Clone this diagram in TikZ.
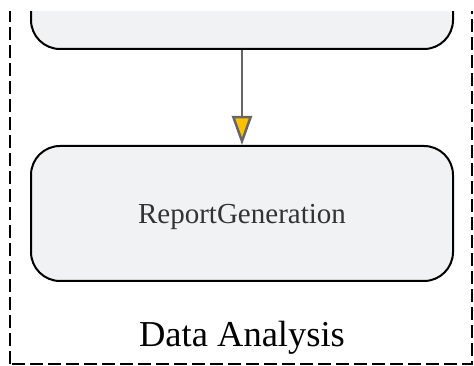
\documentclass[tikz,border=0pt]{standalone}
\usepackage{fontspec}
\setmainfont{Liberation Serif}
\usetikzlibrary{positioning, arrows.meta}
\definecolor{boxfill}{HTML}{F1F2F4}
\definecolor{edgegray}{HTML}{666666}
\definecolor{tipfill}{HTML}{FFC000}
\definecolor{textgray}{HTML}{333333}
\tikzset{%
  task/.style={draw=black, line width=2pt, fill=boxfill, rounded corners=29pt,
    minimum width=422pt, minimum height=135pt, inner sep=0pt, text depth=0pt,
    text=textgray, font=\fontsize{29}{34}\selectfont},
  flow/.style={draw=edgegray, line width=2.5pt,
    -{Triangle[length=29pt, width=20pt, fill=tipfill]}},
  cluster/.style={draw=black, line width=2pt, dash pattern=on 13pt off 5pt},
  clabel/.style={inner sep=0pt, font=\fontsize{36.5}{42}\selectfont}
}
\begin{document}
\begin{tikzpicture}[x=1pt, y=1pt]
  \useasboundingbox (0,0) rectangle (474,366);
  \fill[white] (0,0) rectangle (474,366);
  \clip (0,0) rectangle (474,354);

  % cluster frame, runs off the top
  \draw[cluster] (10,1.5) rectangle (472,420);

  \node[task] (prev) at (242,384.5) {};
  \node[task] (report) [below = 95pt of prev] {ReportGeneration};

  \draw[flow] (prev) -- (report);

  \node[clabel, anchor=base] (lbl) at (242,19.3) {Data Analysis};
\end{tikzpicture}
\end{document}
